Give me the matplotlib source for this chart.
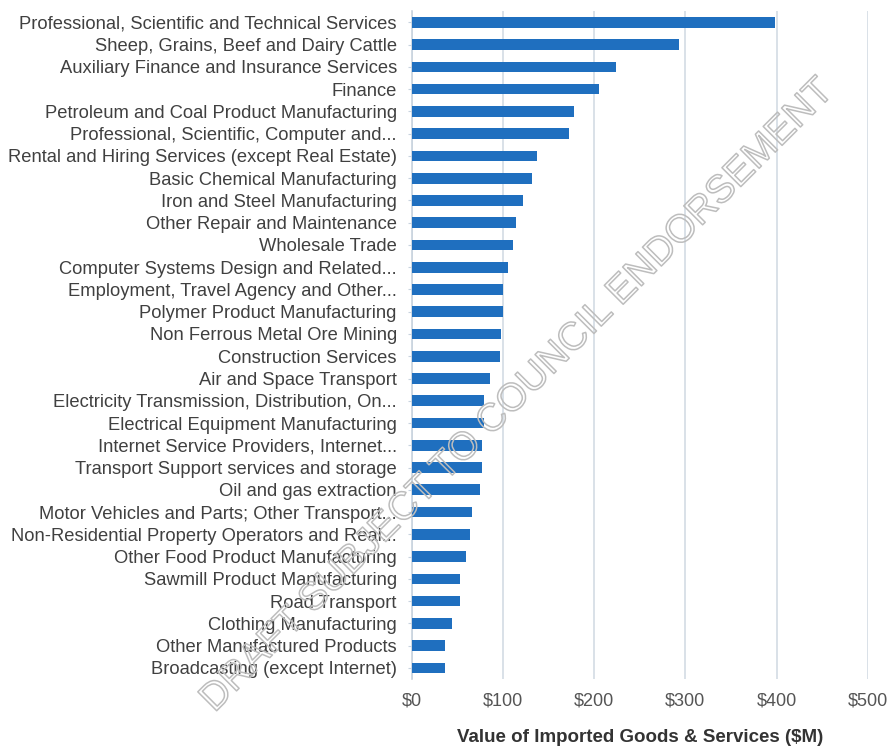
import matplotlib
matplotlib.use('Agg')
import matplotlib.pyplot as plt
from matplotlib import patheffects
import numpy as np

# Imported goods & services by industry, $M
industries = [
    'Professional, Scientific and Technical Services',
    'Sheep, Grains, Beef and Dairy Cattle',
    'Auxiliary Finance and Insurance Services',
    'Finance',
    'Petroleum and Coal Product Manufacturing',
    'Professional, Scientific, Computer and...',
    'Rental and Hiring Services (except Real Estate)',
    'Basic Chemical Manufacturing',
    'Iron and Steel Manufacturing',
    'Other Repair and Maintenance',
    'Wholesale Trade',
    'Computer Systems Design and Related...',
    'Employment, Travel Agency and Other...',
    'Polymer Product Manufacturing',
    'Non Ferrous Metal Ore Mining',
    'Construction Services',
    'Air and Space Transport',
    'Electricity Transmission, Distribution, On...',
    'Electrical Equipment Manufacturing',
    'Internet Service Providers, Internet...',
    'Transport Support services and storage',
    'Oil and gas extraction',
    'Motor Vehicles and Parts; Other Transport...',
    'Non-Residential Property Operators and Real...',
    'Other Food Product Manufacturing',
    'Sawmill Product Manufacturing',
    'Road Transport',
    'Clothing Manufacturing',
    'Other Manufactured Products',
    'Broadcasting (except Internet)',
]
imports_m = [398, 293, 224, 205, 178, 172, 137, 132, 122, 114,
             111, 105, 100, 100, 98, 96, 86, 79, 79, 77,
             77, 75, 66, 64, 59, 53, 53, 44, 36, 36]
x_ticks = [0, 100, 200, 300, 400, 500]
x_ticklabels = ['$0', '$100', '$200', '$300', '$400', '$500']

plt.rcParams['font.family'] = ['Liberation Sans', 'DejaVu Sans']

fig = plt.figure(figsize=(8.89, 7.47), dpi=100)
ax = fig.add_axes([0.4635, 0.091, 0.5125, 0.894])

y = np.arange(len(industries))
ax.barh(y, imports_m, height=0.48, color='#1f6fbf', zorder=3)
ax.set_ylim(len(industries) - 0.5, -0.5)
ax.set_yticks(y)
ax.set_yticklabels(industries, fontsize=13.2, color='#404040')
ax.set_xlim(0, 500)
ax.set_xticks(x_ticks)
ax.set_xticklabels(x_ticklabels, fontsize=13, color='#555555')
ax.tick_params(axis='x', length=0, pad=10)
ax.tick_params(axis='y', length=3, color='#c8d3de', pad=8)

ax.grid(axis='x', color='#d3dbe4', linewidth=1.2, zorder=0)
for side in ['top', 'right', 'bottom']:
    ax.spines[side].set_visible(False)
ax.spines['left'].set_color('#c8d3de')
ax.spines['left'].set_linewidth(1.2)

ax.set_xlabel('Value of Imported Goods & Services ($M)', fontsize=13.5,
              fontweight='bold', color='#333333', labelpad=14)

# diagonal outlined draft stamp
fig.text(0.582, 0.47, 'DRAFT SUBJECT TO COUNCIL ENDORSEMENT', fontsize=28,
         rotation=45, ha='center', va='center', color=(1, 1, 1, 0),
         path_effects=[patheffects.Stroke(linewidth=1.1, foreground='#bdbdbd')],
         zorder=1)

fig.savefig('out.png', dpi=100)
